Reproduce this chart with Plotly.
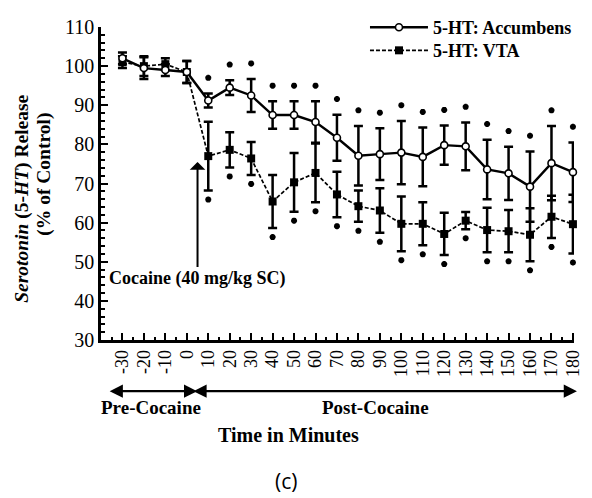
import plotly.graph_objects as go

# ---- data ----
minutes = [-30, -20, -10, 0, 10, 20, 30, 40, 50, 60, 70, 80, 90, 100, 110, 120, 130, 140, 150, 160, 170, 180]
tick_labels = [str(m) for m in minutes]

acc = [102, 99.5, 99, 98.5, 91.2, 94.5, 92.5, 87.5, 87.5, 85.7, 81.7, 77.1, 77.5, 77.9, 76.8,
       79.8, 79.5, 73.6, 72.6, 69.2, 75.2, 72.9]
acc_err = [1.5, 2.8, 1.5, 2.8, 1.8, 1.9, 4.2, 3.5, 3.5, 5.3, 5.9, 7.6, 6.6, 8.1, 7.5,
           5.0, 6.1, 7.6, 6.8, 9.0, 9.5, 7.6]
vta = [101, 100, 100.5, 98.5, 77, 78.6, 76.4, 65.4, 70.3, 72.7, 67.2, 64.2, 63.1, 59.7, 59.7,
       57.1, 60.5, 58.1, 57.8, 56.9, 61.5, 59.6]
vta_err = [1.5, 2.5, 1.5, 2.8, 8.8, 4.5, 4.2, 6.8, 7.5, 7.5, 5.8, 4.0, 5.7, 7.0, 5.5,
           5.4, 2.2, 5.7, 5.4, 6.8, 5.4, 7.5]
significant = [0, 0, 0, 0] + [1] * 18

cocaine_time = 5
legend_names = ["5-HT: Accumbens", "5-HT: VTA"]

# ---- styling ----
SERIF = "Liberation Serif, Times New Roman, serif"
ABOVE_OFFSET = 4.0
BELOW_OFFSET = 2.3

fig = go.Figure()

fig.add_trace(go.Scatter(
    x=minutes, y=vta, name=legend_names[1], mode="lines+markers",
    line=dict(color="black", width=1.7, dash="4px,2px"),
    marker=dict(symbol="square", size=8, color="black"),
    error_y=dict(type="data", array=vta_err, color="black", thickness=2.5, width=4.5),
    cliponaxis=False, legend="legend2",
))
fig.add_trace(go.Scatter(
    x=minutes, y=acc, name=legend_names[0], mode="lines+markers",
    line=dict(color="black", width=2.4),
    marker=dict(symbol="circle", size=7, color="white", line=dict(color="black", width=1.6)),
    error_y=dict(type="data", array=acc_err, color="black", thickness=2.5, width=4.5),
    cliponaxis=False, legend="legend",
))

# significance asterisks
ast_x = [m for m, s in zip(minutes, significant) if s]
acc_ast_y = [a + e + ABOVE_OFFSET for a, e, s in zip(acc, acc_err, significant) if s]
vta_ast_y = [v - e - BELOW_OFFSET for v, e, s in zip(vta, vta_err, significant) if s]
for yy in (acc_ast_y, vta_ast_y):
    fig.add_trace(go.Scatter(
        x=ast_x, y=yy, mode="markers", showlegend=False, hoverinfo="skip",
        marker=dict(symbol="asterisk-open", size=5, color="black",
                    line=dict(color="black", width=2)),
        cliponaxis=False,
    ))

W, H = 592, 498
L, R, T, B = 101, 9, 22, 158
pw = W - L - R
ph = H - T - B


def px_x(px):
    """reference-image pixel x -> paper x"""
    return (px - L) / pw


def px_y(py):
    """reference-image pixel y -> paper y"""
    return (H - B - py) / ph


legend_style = dict(
    xanchor="left", yanchor="middle", bgcolor="rgba(0,0,0,0)", borderwidth=0,
    font=dict(family=SERIF, size=18, color="black", weight="bold"), itemwidth=58,
)

fig.update_layout(
    width=W, height=H,
    margin=dict(l=L, r=R, t=T, b=B, pad=0),
    paper_bgcolor="white", plot_bgcolor="white",
    font=dict(family=SERIF, color="black", size=18),
    showlegend=True,
    legend=dict(x=px_x(370), y=px_y(22.5), **legend_style),
    legend2=dict(x=px_x(370), y=px_y(46), **legend_style),
    xaxis=dict(
        range=[-40, 180.5], showgrid=False, zeroline=False,
        showline=True, linecolor="black", linewidth=2.5,
        tickmode="array", tickvals=minutes, ticktext=tick_labels,
        ticks="inside", ticklen=7, tickwidth=2, tickcolor="black",
        tickangle=-90, tickfont=dict(family=SERIF, size=18, color="black"),
        minor=dict(dtick=5, tick0=0, ticks="inside", ticklen=3, tickwidth=1.5, tickcolor="black"),
    ),
    yaxis=dict(
        range=[30, 110], showgrid=False, zeroline=False,
        showline=True, linecolor="black", linewidth=2.5,
        tickmode="linear", tick0=30, dtick=10,
        ticks="inside", ticklen=7, tickwidth=2, tickcolor="black",
        tickfont=dict(family=SERIF, size=20, color="black"),
        minor=dict(dtick=2, ticks="inside", ticklen=4, tickwidth=1.5, tickcolor="black"),
    ),
)

bold = dict(family=SERIF, color="black", weight="bold")
centered = dict(xref="paper", yref="paper", xanchor="center", yanchor="middle", showarrow=False)

annotations = [
    # cocaine injection arrow
    dict(x=cocaine_time, y=75.5, xref="x", yref="y", ax=cocaine_time, ay=45.6,
         axref="x", ayref="y", showarrow=True, arrowhead=1, arrowsize=1.3, arrowwidth=2,
         arrowcolor="black", text="Cocaine (40 mg/kg SC)", font=dict(size=18, **bold)),
    # y-axis title (two lines)
    dict(x=px_x(21), y=px_y(196), textangle=-90,
         text="<i>Serotonin</i> (5-<i>HT</i>) Release", font=dict(size=19.5, **bold), **centered),
    dict(x=px_x(43), y=px_y(172), textangle=-90,
         text="(% of Control)", font=dict(size=19.5, **bold), **centered),
    # pre / post arrows
    dict(x=px_x(199), y=px_y(392), xref="paper", yref="paper", ax=-(199 - 110), ay=0,
         showarrow=True, arrowhead=2, arrowside="end+start", arrowsize=1.2, arrowwidth=2.2,
         arrowcolor="black", text=""),
    dict(x=px_x(586), y=px_y(392), xref="paper", yref="paper", ax=-(586 - 201), ay=0,
         showarrow=True, arrowhead=2, arrowside="end+start", arrowsize=1.2, arrowwidth=2.2,
         arrowcolor="black", text=""),
    dict(x=px_x(152), y=px_y(409), text="Pre-Cocaine", font=dict(size=19, **bold), **centered),
    dict(x=px_x(381), y=px_y(409), text="Post-Cocaine", font=dict(size=19, **bold), **centered),
    dict(x=px_x(292), y=px_y(437), text="Time in Minutes", font=dict(size=20, **bold), **centered),
    dict(x=px_x(290), y=px_y(483), text="(c)",
         font=dict(family="Open Sans, DejaVu Sans, sans-serif", size=21, color="black"), **centered),
]
fig.update_layout(annotations=annotations)

fig.write_html("out.html", config={"displayModeBar": False},
               post_script="document.body.style.margin='0px';")
